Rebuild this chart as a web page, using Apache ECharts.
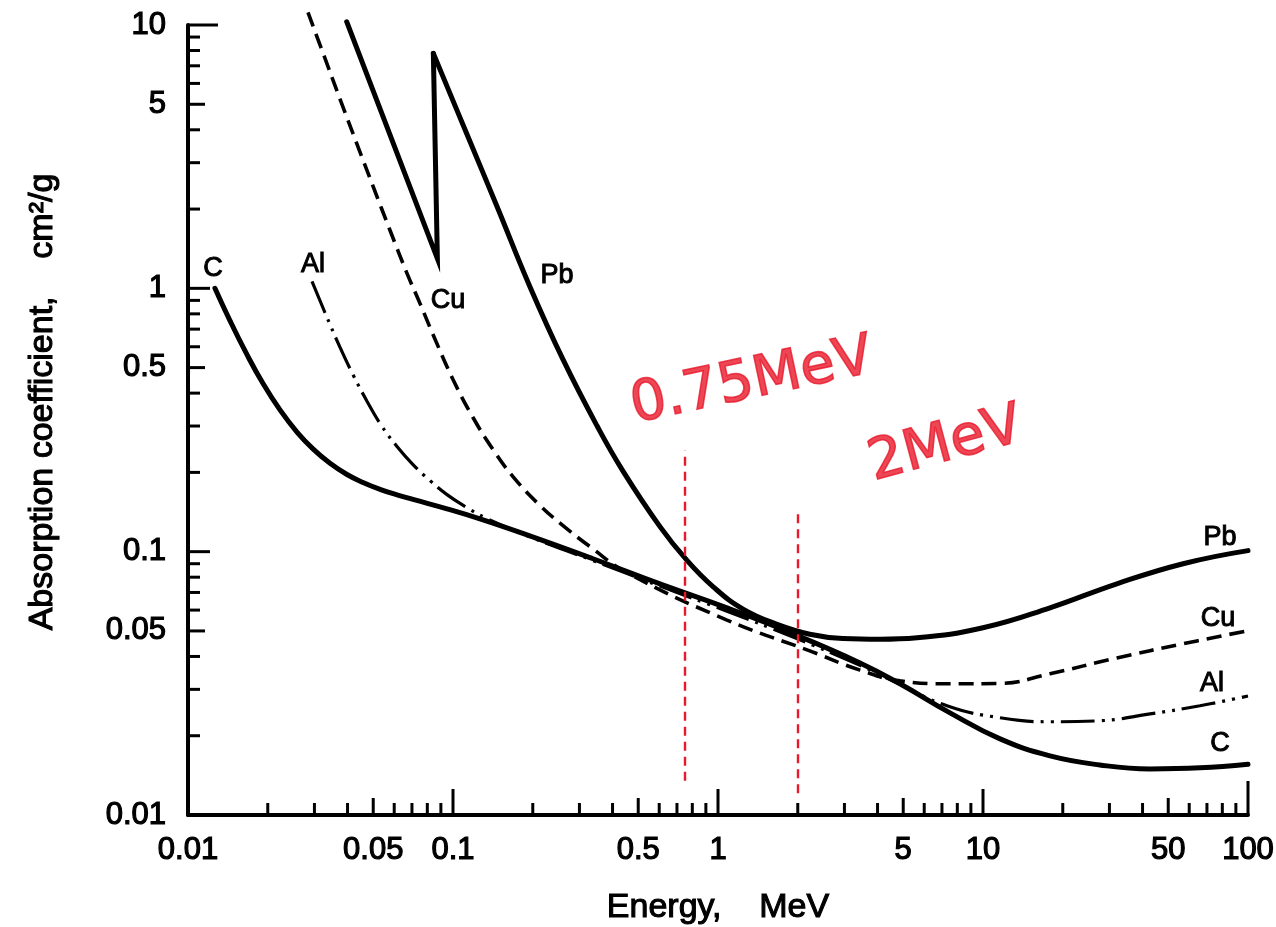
<!DOCTYPE html>
<html>
<head>
<meta charset="utf-8">
<title>Absorption coefficient vs energy</title>
<script src="https://cdn.jsdelivr.net/npm/echarts@6/dist/echarts.min.js"></script>
<style>
  html, body { margin: 0; padding: 0; background: #ffffff; }
  #chart { width: 1276px; height: 927px; }
</style>
</head>
<body>
<div id="chart"></div>
<script>
// Mass absorption coefficient (cm²/g) against photon energy (MeV), one list per absorber.
const carbon = [
  [0.01264, 1.0], [0.0144, 0.7537], [0.0167, 0.5597], [0.01919, 0.435], [0.02224, 0.3455],
  [0.02578, 0.2847], [0.02962, 0.2457], [0.03435, 0.2165], [0.03981, 0.1964], [0.04575, 0.1831],
  [0.05303, 0.1725], [0.06147, 0.1643], [0.07063, 0.1579], [0.09492, 0.1454], [0.1264, 0.1332],
  [0.1902, 0.1158], [0.3376, 0.094], [0.604, 0.0755], [1.081, 0.0612], [1.919, 0.0488],
  [3.435, 0.0378], [4.86, 0.0315], [7.507, 0.02443], [11.6, 0.01945], [17.9, 0.01676],
  [27.6, 0.01549], [42.7, 0.01496], [65.9, 0.0151], [100, 0.0156]
];
const aluminium = [
  [0.02937, 1.063], [0.03346, 0.7756], [0.03747, 0.5972], [0.04194, 0.4702], [0.04737, 0.3725],
  [0.05303, 0.307], [0.06147, 0.2507], [0.07063, 0.2141], [0.08188, 0.1862], [0.09492, 0.1647],
  [0.1129, 0.147], [0.132, 0.1346], [0.1902, 0.115], [0.3376, 0.0925], [0.604, 0.074],
  [1.081, 0.0594], [1.919, 0.0474], [3.435, 0.037], [4.6, 0.0322], [7.31, 0.026],
  [11.6, 0.0234], [17.9, 0.0226], [27.6, 0.0228], [42.7, 0.0242], [65.9, 0.026], [100, 0.0283]
];
const copper = [
  [0.02836, 11.16], [0.03232, 7.827], [0.03747, 5.232], [0.04342, 3.528], [0.04991, 2.442],
  [0.05784, 1.662], [0.06706, 1.14], [0.07505, 0.8769], [0.08405, 0.6683], [0.1, 0.4508],
  [0.119, 0.3232], [0.1416, 0.2442], [0.1684, 0.1928], [0.213, 0.1496], [0.2601, 0.1256],
  [0.3288, 0.1045], [0.4535, 0.0832], [1.081, 0.055], [2.22, 0.042], [3.435, 0.0355],
  [4.86, 0.0323], [7.51, 0.0315], [11.6, 0.0316], [17.9, 0.0344], [32.0, 0.0395],
  [56.9, 0.0447], [100, 0.0501]
];
// Lead up to the top of the K absorption edge (straight segments) ...
const leadBelowEdge = [[0.0397, 10.29], [0.0873, 1.297], [0.0843, 7.8]];
// ... and from the top of the edge onwards.
const leadAboveEdge = [
  [0.0843, 7.8], [0.1129, 3.845], [0.1466, 2.046], [0.1953, 1.012], [0.26, 0.537],
  [0.3495, 0.3006], [0.438, 0.2023], [0.604, 0.1245], [0.764, 0.0926], [0.957, 0.0737],
  [1.243, 0.0605], [1.67, 0.053], [2.22, 0.0486], [2.96, 0.0468], [4.09, 0.0465],
  [5.64, 0.0471], [10, 0.0514], [17.9, 0.0612], [32, 0.0755], [56.9, 0.09], [100, 0.1009]
];

// Axis ranges and labelled tick values.
const energyRange = [0.01, 100];
const coefficientRange = [0.01, 10];
const xTickLabelValues = [0.01, 0.05, 0.1, 0.5, 1, 5, 10, 50, 100];
const yTickLabelValues = [0.01, 0.05, 0.1, 0.5, 1, 5, 10];
const tickMultipliers = [1, 2, 3, 4, 5, 6, 7, 8, 9];

// Hand-marked energies.
const markedEnergies = [0.75, 2];
const markedEnergyLabels = ['0.75MeV', '2MeV'];

const FONT = '"Liberation Sans", Arial, Helvetica, sans-serif';
const INK = '#000000';
const RED = '#e8192c';

function isDecade(v) {
  const l = Math.log10(v);
  return Math.abs(l - Math.round(l)) < 1e-6;
}
function isHalfDecade(v) {
  const m = v / Math.pow(10, Math.floor(Math.log10(v) + 1e-9));
  return Math.abs(m - 5) < 1e-6;
}
function logTicks(range) {
  const out = [];
  for (let d = range[0]; d < range[1] * 0.999; d *= 10) {
    tickMultipliers.forEach(m => out.push(+(d * m).toPrecision(6)));
  }
  out.push(range[1]);
  return out.filter(v => v > range[0] * 1.0001);
}
const xTickValues = logTicks(energyRange);
const yTickValues = logTicks(coefficientRange);

function fmt(v) { return String(+v.toPrecision(6)); }

function curveLabel(name, point, offset) {
  return { name: name, coord: point, label: { offset: offset } };
}
function tagged(labels) {
  return {
    silent: true,
    symbol: 'circle',
    symbolSize: 0.1,
    itemStyle: { color: 'rgba(0,0,0,0)' },
    label: { show: true, position: 'inside', formatter: '{b}', color: INK, fontSize: 27,
             fontFamily: FONT, textBorderColor: INK, textBorderWidth: 1 },
    data: labels
  };
}
function tickLength(v, range, top, decade) {
  if (v >= range[1]) return top;
  if (isDecade(v)) return decade;
  if (isHalfDecade(v)) return 17;
  return 12;
}

const chart = echarts.init(document.getElementById('chart'), null, { renderer: 'canvas' });

const labelText = { color: INK, fontSize: 31, fontFamily: FONT, textBorderColor: INK, textBorderWidth: 1.2 };
const titleText = { color: INK, fontSize: 34, fontFamily: FONT, textBorderColor: INK, textBorderWidth: 1.1 };

// text offsets are rotated with the text, so turn a screen offset into the label frame
function rotatedOffset(dx, dy, deg) {
  const a = deg * Math.PI / 180;
  return [dx * Math.cos(a) - dy * Math.sin(a), dx * Math.sin(a) + dy * Math.cos(a)];
}
const noteTop = [0.242, 0.1406];
const noteBottom = [0.0135, 0.0121];
const noteAngle = [12, 15];
const noteShift = [[67, -68], [148, -67]];

const option = {
  animation: false,
  backgroundColor: '#ffffff',
  grid: { left: 188, right: 28, top: 25, bottom: 112, containLabel: false, outerBoundsMode: 'none' },
  xAxis: {
    type: 'log', logBase: 10, min: energyRange[0], max: energyRange[1],
    axisLine: { show: true, lineStyle: { color: INK, width: 4 } },
    axisTick: { show: false },
    minorTick: { show: false },
    splitLine: { show: false },
    axisLabel: Object.assign({ customValues: xTickLabelValues, formatter: v => fmt(v), margin: 20 }, labelText),
    name: 'Energy,    MeV',
    nameLocation: 'middle',
    nameGap: 76,
    nameTextStyle: Object.assign({}, titleText)
  },
  yAxis: {
    type: 'log', logBase: 10, min: coefficientRange[0], max: coefficientRange[1],
    axisLine: { show: true, lineStyle: { color: INK, width: 4 } },
    axisTick: { show: false },
    minorTick: { show: false },
    splitLine: { show: false },
    axisLabel: Object.assign({ customValues: yTickLabelValues, formatter: v => fmt(v), margin: 22 }, labelText),
    name: 'Absorption coefficient,    cm²/g',
    nameLocation: 'middle',
    nameGap: 128,
    nameTextStyle: Object.assign({ padding: [0, 0, 0, 36] }, titleText)
  },
  series: [
    {
      name: 'C', type: 'line', data: carbon, smooth: 0.45, showSymbol: false, symbol: 'none',
      lineStyle: { color: INK, width: 5, cap: 'round', join: 'round' },
      markPoint: tagged([
        curveLabel('C', carbon[0], [-2, -20]),
        curveLabel('C', carbon[carbon.length - 1], [-28, -21])
      ]),
      z: 3
    },
    {
      name: 'Al', type: 'line', data: aluminium, smooth: 0.45, showSymbol: false, symbol: 'none',
      lineStyle: { color: INK, width: 3.2, type: [34, 7, 3, 7, 3, 7] },
      markPoint: tagged([
        curveLabel('Al', aluminium[0], [1, -17]),
        curveLabel('Al', aluminium[aluminium.length - 1], [-36, -12])
      ]),
      z: 2
    },
    {
      name: 'Cu', type: 'line', data: copper, smooth: 0.45, showSymbol: false, symbol: 'none',
      clip: false,
      lineStyle: { color: INK, width: 3.6, type: [15, 8] },
      markPoint: tagged([
        curveLabel('Cu', copper[7], [28, -3]),
        curveLabel('Cu', copper[copper.length - 1], [-30, -12])
      ]),
      z: 2
    },
    {
      name: 'Pb', type: 'line', data: leadBelowEdge, smooth: false, showSymbol: false, symbol: 'none',
      clip: false,
      lineStyle: { color: INK, width: 5, cap: 'round', join: 'miter' },
      z: 3
    },
    {
      name: 'Pb', type: 'line', data: leadAboveEdge, smooth: 0.45, showSymbol: false, symbol: 'none',
      clip: false,
      lineStyle: { color: INK, width: 5, cap: 'round', join: 'round' },
      markPoint: tagged([
        curveLabel('Pb', leadAboveEdge[3], [27, -11]),
        curveLabel('Pb', leadAboveEdge[leadAboveEdge.length - 1], [-28, -13])
      ]),
      z: 3
    },
    {
      // inward tick marks along the energy axis
      name: 'energy ticks', type: 'custom', silent: true,
      data: xTickValues.map(v => [v, coefficientRange[0]]),
      renderItem: (params, api) => {
        const v = api.value(0);
        const p = api.coord([v, coefficientRange[0]]);
        const len = tickLength(v, energyRange, 34, 26);
        return { type: 'line', shape: { x1: p[0], y1: p[1], x2: p[0], y2: p[1] - len },
                 style: { stroke: INK, lineWidth: 3 } };
      },
      z: 4
    },
    {
      // inward tick marks along the coefficient axis
      name: 'coefficient ticks', type: 'custom', silent: true,
      data: yTickValues.map(v => [energyRange[0], v]),
      renderItem: (params, api) => {
        const v = api.value(1);
        const p = api.coord([energyRange[0], v]);
        const len = tickLength(v, coefficientRange, 30, 22);
        return { type: 'line', shape: { x1: p[0], y1: p[1], x2: p[0] + len, y2: p[1] },
                 style: { stroke: INK, lineWidth: 3 } };
      },
      z: 4
    },
    {
      // red hand annotations: dashed verticals at the marked energies with their notes
      name: 'marked energies', type: 'scatter', silent: true,
      symbolSize: 0.1,
      itemStyle: { color: 'rgba(0,0,0,0)' },
      data: markedEnergies.map((e, i) => ({
        value: [e, noteTop[i]],
        name: markedEnergyLabels[i],
        label: {
          rotate: noteAngle[i],
          offset: rotatedOffset(noteShift[i][0], noteShift[i][1], noteAngle[i])
        }
      })),
      label: {
        show: true, position: 'inside', formatter: '{b}', color: RED,
        fontSize: 56, fontFamily: '"DejaVu Sans", sans-serif', fontWeight: 'normal',
        textBorderColor: RED, textBorderWidth: 1.6
      },
      markLine: {
        silent: true, symbol: 'none', animation: false,
        label: { show: false },
        lineStyle: { color: RED, width: 2.4, type: [9, 6], opacity: 1 },
        data: markedEnergies.map((e, i) => [
          { coord: [e, noteBottom[i]] },
          { coord: [e, noteTop[i]] }
        ])
      },
      z: 5
    }
  ]
};

chart.setOption(option);
</script>
</body>
</html>
